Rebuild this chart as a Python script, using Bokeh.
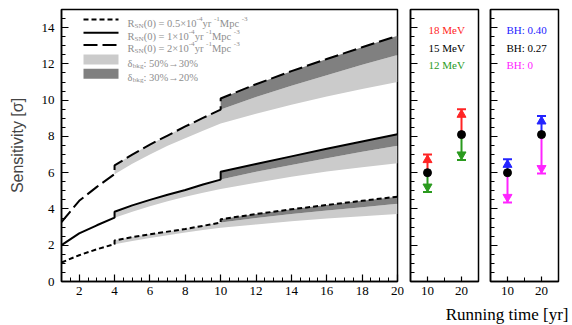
from bokeh.plotting import figure
from bokeh.layouts import row, column
from bokeh.models import Range1d, FixedTicker, SingleIntervalTicker, Label, CustomJSTickFormatter
from bokeh.embed import file_html
from bokeh.resources import INLINE

# ---------------- data ----------------
T_ALL = [1, 2, 3, 4, 5, 6, 7, 8, 9, 10, 12, 14, 16, 18, 20]
T_MID = [4, 5, 6, 7, 8, 9, 10, 12, 14, 16, 18, 20]
T_LATE = [10, 12, 14, 16, 18, 20]

# R_SN(0) = 2e-4 (long dash)
HIGH_50 = [3.28, 4.45, 5.22, 5.92, 6.5, 7.0, 7.48, 7.9, 8.32, 8.72, 9.25, 9.75, 10.2, 10.62, 11.0]
HIGH_30 = [6.4, 7.0, 7.55, 8.05, 8.55, 9.02, 9.48, 10.17, 10.8, 11.38, 11.95, 12.49]
HIGH_20 = [10.09, 10.88, 11.6, 12.27, 12.92, 13.55]
# R_SN(0) = 1e-4 (solid)
MID_50 = [2.0, 2.65, 3.1, 3.52, 3.85, 4.15, 4.43, 4.68, 4.9, 5.1, 5.45, 5.78, 6.07, 6.3, 6.52]
MID_30 = [3.85, 4.2, 4.5, 4.78, 5.05, 5.35, 5.62, 6.05, 6.43, 6.8, 7.15, 7.48]
MID_20 = [6.05, 6.48, 6.9, 7.32, 7.72, 8.12]
# R_SN(0) = 0.5e-4 (short dash)
LOW_50 = [1.05, 1.45, 1.78, 2.06, 2.23, 2.4, 2.55, 2.7, 2.84, 2.97, 3.15, 3.32, 3.47, 3.6, 3.72]
LOW_30 = [2.26, 2.45, 2.6, 2.75, 2.9, 3.07, 3.25, 3.5, 3.72, 3.92, 4.1, 4.29]
LOW_20 = [3.43, 3.72, 3.98, 4.22, 4.45, 4.68]

T_RUN = [10, 20]
SENS_15MEV = [6.0, 8.1]
SENS_18MEV = [7.0, 9.5]
SENS_12MEV = [4.93, 6.7]
SENS_BH027 = [6.0, 8.1]
SENS_BH040 = [6.74, 9.13]
SENS_BH000 = [4.36, 5.95]

X_TICKS_MAIN = [2, 4, 6, 8, 10, 12, 14, 16, 18, 20]
X_TICKS_RUN = [10, 20]

LEG_RATES = ["0.5", "1", "2"]
LEG_BANDS = ["50%\u219230%", "30%\u219220%"]
LEG_E = ["18 MeV", "15 MeV", "12 MeV"]
LEG_BH = ["BH: 0.40", "BH: 0.27", "BH: 0"]

# ---------------- style ----------------
LIGHT = "#cbcbcb"
DARK = "#808080"
RED = "#ff2424"
GREEN = "#2a9a1e"
BLUE = "#2424ff"
MAGENTA = "#ff24ff"
LEGTXT = "#8e8e8e"
SERIF = "'Liberation Serif'"
TICKFONT = "'Liberation Serif', serif"

TOP, BOT = 9, 281
Y0, Y1 = 0.0, 15.0


def py_to_y(py):
    return Y1 - (py - TOP) * (Y1 - Y0) / (BOT - TOP)


def base_axes(p, xt):
    p.xgrid.visible = False
    p.ygrid.visible = False
    p.outline_line_color = "black"
    p.outline_line_width = 1.5
    p.background_fill_color = "white"
    p.border_fill_color = "white"
    p.axis.axis_line_width = 1.5
    p.axis.major_tick_in = 7
    p.axis.major_tick_out = 0
    p.axis.minor_tick_in = 4
    p.axis.minor_tick_out = 0
    p.axis.major_tick_line_width = 1.2
    p.axis.minor_tick_line_width = 1
    p.axis.major_label_text_font = TICKFONT
    p.axis.major_label_text_font_size = "13px"
    p.axis.major_label_text_color = "black"
    p.yaxis.ticker = SingleIntervalTicker(interval=2, num_minor_ticks=4)
    p.xaxis.ticker = xt
    p.xaxis.major_label_standoff = 5


# ---------------- main panel ----------------
p = figure(width=404, height=303, x_range=Range1d(1, 20), y_range=Range1d(Y0, Y1),
           output_backend="svg", toolbar_location=None,
           min_border_left=61, min_border_right=7, min_border_top=TOP, min_border_bottom=22)
base_axes(p, FixedTicker(ticks=X_TICKS_MAIN,
                         minor_ticks=[1 + 0.5 * i for i in range(39)]))
p.yaxis.major_label_standoff = 7
p.yaxis.axis_label = "Sensitivity [\u03c3]"
p.yaxis.axis_label_text_font = "'Liberation Sans'"
p.yaxis.axis_label_text_font_size = "16px"
p.yaxis.axis_label_text_font_style = "normal"
p.yaxis.axis_label_standoff = 13

series = [
    (LOW_50, LOW_30, LOW_20, "5 3"),
    (MID_50, MID_30, MID_20, "solid"),
    (HIGH_50, HIGH_30, HIGH_20, "14 5"),
]

for c50, c30, c20, dash in series:
    lo50 = [v for t, v in zip(T_ALL, c50) if t in T_MID]
    lo30 = [v for t, v in zip(T_MID, c30) if t in T_LATE]
    p.varea(x=T_MID, y1=lo50, y2=c30, fill_color=LIGHT)
    p.varea(x=T_LATE, y1=lo30, y2=c20, fill_color=DARK)

for c50, c30, c20, dash in series:
    xs = [t for t in T_ALL if t <= 4] + [t for t in T_MID if t <= 10] + T_LATE
    ys = ([v for t, v in zip(T_ALL, c50) if t <= 4]
          + [v for t, v in zip(T_MID, c30) if t <= 10] + c20)
    p.line(xs, ys, line_color="black", line_width=2, line_dash=dash)

# legend (manual, to allow sub/superscripts)
XS = 336 / 19.0


def px_to_x(px):
    return 1 + (px - 61) / XS


WID = {' ': 250, '(': 333, ')': 333, '=': 564, '.': 250, '\u00d7': 564, '-': 333,
       'y': 500, 'r': 333, 'M': 889, 'p': 500, 'c': 444, 'R': 667, 'S': 556,
       'N': 722, '\u03b4': 500, 'b': 500, 'k': 500, 'g': 500, ':': 278, '%': 833}


def tw(s, size):
    return sum(WID.get(ch, 500) for ch in s) / 1000.0 * size


def rich(fig, pieces, x, y, size, color):
    off = 0.0
    for text, kind in pieces:
        fs = size if kind == "n" else size * 0.68
        dy = 0 if kind == "n" else (-2.5 if kind == "sub" else 4.2)
        fig.add_layout(Label(x=x, y=y, x_offset=off, y_offset=dy, text=text,
                             text_font=SERIF, text_font_size=f"{fs:.2f}px",
                             text_color=color, text_baseline="alphabetic",
                             text_align="left"))
        off += tw(text, fs)


LX0, LX1, LTX = px_to_x(83), px_to_x(118), px_to_x(127)
line_rows = [19, 32.3, 44.5]
for (c50, c30, c20, dash), rate, ry in zip(series, LEG_RATES, line_rows):
    p.line([LX0, LX1], [py_to_y(ry)] * 2, line_color="black", line_width=2, line_dash=dash)
    rich(p, [("R", "n"), ("SN", "sub"), ("(0) = " + rate + "\u00d710", "n"), ("-4", "sup"),
             (" yr", "n"), ("-1", "sup"), (" Mpc", "n"), ("-3", "sup")],
         LTX, py_to_y(ry + 3.6), 10.5, LEGTXT)

band_rows = [59, 73.3]
for col, lab, ry in zip([LIGHT, DARK], LEG_BANDS, band_rows):
    p.quad(left=LX0, right=LX1, bottom=py_to_y(ry + 5), top=py_to_y(ry - 5),
           fill_color=col, line_color=None)
    rich(p, [("\u03b4", "n"), ("bkg", "sub"), (": " + lab, "n")],
         LTX, py_to_y(ry + 3.6), 10.5, LEGTXT)


# ---------------- small panels ----------------
def small_panel(width, bl, br, ctr, hi, lo, hi_col, lo_col, labels, label_px, fl):
    f = figure(width=width, height=303, x_range=Range1d(5, 25), y_range=Range1d(Y0, Y1),
               output_backend="svg", toolbar_location=None,
               min_border_left=bl, min_border_right=br, min_border_top=TOP,
               min_border_bottom=22)
    base_axes(f, FixedTicker(ticks=X_TICKS_RUN, minor_ticks=[15]))
    f.xaxis.major_tick_in = 5
    f.yaxis.formatter = CustomJSTickFormatter(code="return ''")
    f.yaxis.major_label_standoff = 0
    off = 0.3
    f.segment(x0=T_RUN, y0=ctr, x1=T_RUN, y1=hi, line_color=hi_col, line_width=2)
    f.segment(x0=T_RUN, y0=ctr, x1=T_RUN, y1=lo, line_color=lo_col, line_width=2)
    f.scatter(T_RUN, [v - off for v in hi], marker="triangle", size=9,
              fill_color=hi_col, line_color=hi_col)
    f.scatter(T_RUN, [v + off for v in lo], marker="inverted_triangle", size=9,
              fill_color=lo_col, line_color=lo_col)
    f.scatter(T_RUN, hi, marker="dash", size=9, line_color=hi_col, line_width=2)
    f.scatter(T_RUN, lo, marker="dash", size=9, line_color=lo_col, line_width=2)
    f.scatter(T_RUN, ctr, marker="circle", size=8, fill_color="black", line_color="black")
    for txt, col, py in zip(labels, [hi_col, "black", lo_col], [29, 47, 64]):
        f.add_layout(Label(x=5 + (label_px - fl) / 3.4, y=py_to_y(py), text=txt,
                           text_font=SERIF, text_font_size="11px", text_color=col,
                           text_baseline="alphabetic", text_align="left"))
    return f


p2 = small_panel(80, 6, 6, SENS_15MEV, SENS_18MEV, SENS_12MEV, RED, GREEN, LEG_E, 428, 410)
p3 = small_panel(88, 6, 14, SENS_BH027, SENS_BH040, SENS_BH000, BLUE, MAGENTA, LEG_BH, 506, 490)

# bottom strip with common x label
f4 = figure(width=572, height=22, x_range=Range1d(0, 572), y_range=Range1d(0, 22),
            output_backend="svg", toolbar_location=None, min_border=0,
            x_axis_location=None, y_axis_location=None, outline_line_color=None)
f4.xgrid.visible = False
f4.ygrid.visible = False
f4.add_layout(Label(x=568, y=11, text="Running time [yr]", text_align="right",
                    text_baseline="middle", text_font=SERIF, text_font_size="17px",
                    text_color="black"))

layout = column(row(p, p2, p3, spacing=0), f4, spacing=0)
open("out.html", "w").write(file_html(layout, INLINE))
